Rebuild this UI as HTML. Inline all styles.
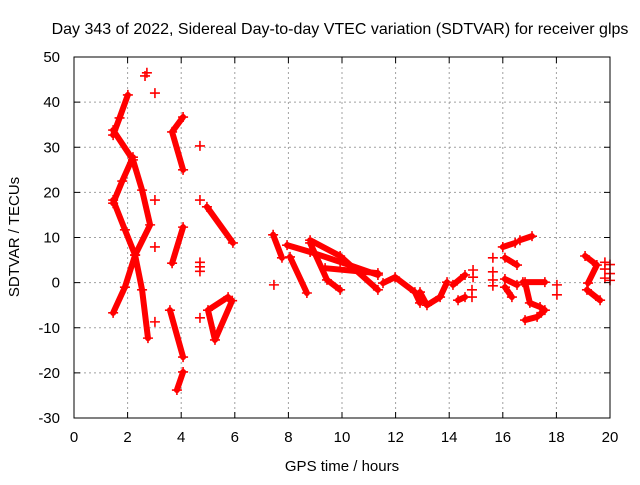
<!DOCTYPE html>
<html><head><meta charset="utf-8"><style>
body{margin:0;background:#fff}
svg text{font-family:"Liberation Sans",sans-serif;font-size:15px;fill:#000}
</style></head><body>
<svg id="c" width="640" height="480" xmlns="http://www.w3.org/2000/svg">
<rect width="640" height="480" fill="#fff"/>
<text x="340" y="34" text-anchor="middle" style="font-size:16px">Day 343 of 2022, Sidereal Day-to-day VTEC variation (SDTVAR) for receiver glps</text>
<text x="342" y="471" text-anchor="middle">GPS time / hours</text>
<text transform="translate(19,237) rotate(-90)" text-anchor="middle">SDTVAR / TECUs</text>
<g id="grid"></g><g id="marks"></g><g id="axes"></g>
</svg>
<script>
const xTicks=[0,2,4,6,8,10,12,14,16,18,20];
const yTicks=[-30,-20,-10,0,10,20,30,40,50];
const tracks=[
[[1.46,32.7],[1.7,36.5],[2.01,41.6]],
[[1.46,33.8],[2.2,27.2],[2.54,20.5],[2.84,12.8],[2.28,6.1],[1.9,-1],[1.46,-6.7]],
[[1.46,17.6],[1.8,22.5],[2.2,27.8]],
[[1.46,18.3],[1.9,11.7],[2.28,6.1],[2.54,-1.6],[2.76,-12.3]],
[[4.07,36.7],[3.66,33.4],[4.07,25.0]],
[[4.07,12.3],[3.66,4.3]],
[[3.58,-6.1],[4.07,-16.5]],
[[4.07,-19.8],[3.84,-23.8]],
[[4.96,16.8],[5.93,8.8]],
[[5.75,-3.2],[5.0,-6.1],[5.26,-12.7],[5.90,-4.0]],
[[7.43,10.6],[7.76,5.5]],
[[7.95,8.3],[8.81,6.8],[9.93,4.6],[11.34,1.7]],
[[8.81,9.4],[9.93,5.9],[11.34,-1.6]],
[[8.06,5.7],[8.69,-2.3]],
[[8.81,8.8],[9.44,0.6],[9.93,-1.6]],
[[9.37,3.2],[11.34,2.1]],
[[11.53,-0.1],[11.98,1.2],[12.72,-2.1],[12.91,-4.5]],
[[12.91,-2.1],[13.17,-5.0],[13.66,-3.2],[13.92,0.1]],
[[14.14,-0.5],[14.59,1.7]],
[[14.33,-3.9],[14.59,-3.2]],
[[16.0,7.9],[16.46,8.8]],
[[16.64,9.4],[17.09,10.3]],
[[16.08,5.5],[16.53,3.9]],
[[16.08,0.8],[16.53,-0.5]],
[[16.08,-1.0],[16.34,-3.2]],
[[16.75,0.1],[17.57,0.1]],
[[16.83,0.1],[17.01,-4.5],[17.39,-5.4],[17.57,-6.1],[17.28,-7.6],[16.83,-8.3]],
[[19.07,5.9],[19.51,3.9],[19.18,-0.1]],
[[19.14,-1.6],[19.63,-3.9]]
];
const singles=[[2.72,46.5],[2.65,45.8],[3.02,42.0],[3.02,18.3],[3.02,7.9],[3.02,-8.7],[4.70,30.3],[4.70,18.3],[4.70,4.5],[4.70,3.5],[4.70,2.5],[4.70,-7.8],[7.46,-0.5],[18.02,-0.5],[18.02,-2.7],[14.89,2.8],[14.89,1.2],[14.85,-1.6],[14.85,-3.2],[15.63,5.5],[15.63,2.4],[15.63,0.6],[15.63,-0.7],[19.81,4.5],[19.81,3],[20,4],[20,2],[19.81,1],[20,0.5]];
const L=74,R=610,T=57,B=418;
const sx=v=>L+(v-0)/20*(R-L);
const sy=v=>B-(v+30)/80*(B-T);
const NS="http://www.w3.org/2000/svg";
function mk(tag,parent,attrs){const e=document.createElementNS(NS,tag);for(const k in attrs)e.setAttribute(k,attrs[k]);parent.appendChild(e);return e;}
const grid=document.getElementById('grid'),axes=document.getElementById('axes'),marks=document.getElementById('marks');
xTicks.forEach(t=>{const x=sx(t);
 if(t>0&&t<20){const g=mk('line',grid,{x1:x,x2:x,y1:T,y2:B,stroke:'#a0a0a0','stroke-dasharray':'2,3'});
 
 }
 mk('line',axes,{x1:x,x2:x,y1:B,y2:B-6,stroke:'#000'});mk('line',axes,{x1:x,x2:x,y1:T,y2:T+6,stroke:'#000'});
 const tx=mk('text',axes,{x:x,y:B+24,'text-anchor':'middle'});tx.textContent=t;
 
 });
yTicks.forEach(t=>{const y=sy(t);
 if(t>-30&&t<50){const g=mk('line',grid,{x1:L,x2:R,y1:y,y2:y,stroke:'#a0a0a0','stroke-dasharray':'2,3'});
 
 }
 mk('line',axes,{x1:L,x2:L+6,y1:y,y2:y,stroke:'#000'});mk('line',axes,{x1:R,x2:R-6,y1:y,y2:y,stroke:'#000'});
 const tx=mk('text',axes,{x:L-14,y:y+5,'text-anchor':'end'});tx.textContent=t;
 
 });
const fr=mk('rect',axes,{x:L,y:T,width:R-L,height:B-T,fill:'none',stroke:'#000'});


function plus(x,y,name){const p=mk('path',marks,{d:`M${x-5},${y}h10M${x},${y-5}v10`,stroke:'#f00','stroke-width':1.6});
 
 }
tracks.forEach(tr=>{
 const pl=mk('polyline',marks,{points:tr.map(p=>sx(p[0])+','+sy(p[1])).join(' '),fill:'none',stroke:'#f00','stroke-width':6,'stroke-linejoin':'round','stroke-linecap':'round'});
 
 
 tr.forEach(p=>plus(sx(p[0]),sy(p[1]),'track-point'));});
singles.forEach(p=>plus(sx(p[0]),sy(p[1]),'sdtvar-point'));
</script>
</body></html>
